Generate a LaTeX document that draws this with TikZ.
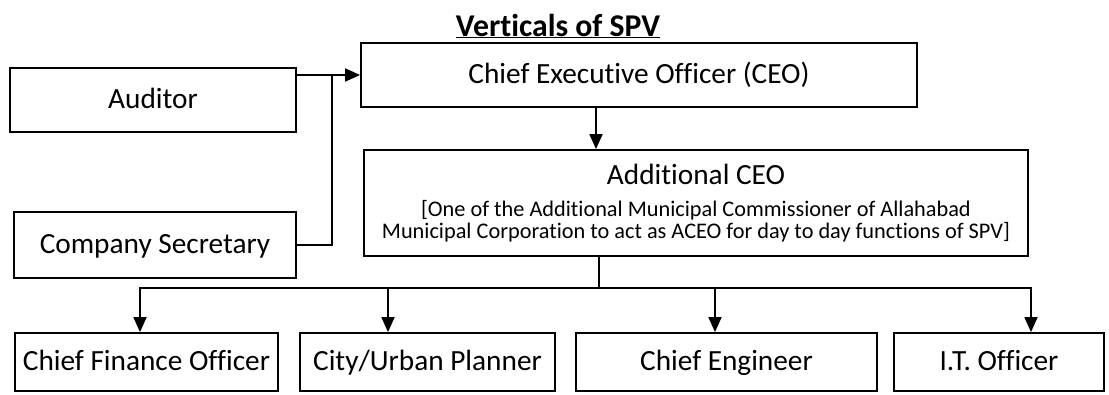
\documentclass[tikz,border=0pt]{standalone}
\usepackage{fontspec}
\setmainfont{Carlito}[Ligatures={NoCommon}]
\usepackage{tikz}
\usetikzlibrary{
  arrows.meta,
  positioning,
  calc
}
\newcommand{\aceonote}{\fontsize{22.3}{22}\selectfont}
\tikzset{
  spvnode/.style={
    draw, line width=1.8pt, inner sep=2pt, align=center,
    font=\fontsize{29.3}{35}\selectfont, text height=21pt, text depth=5pt
  },
  topbox/.style={spvnode, minimum height=64pt},
  vertbox/.style={spvnode, minimum height=58pt},
  link/.style={line width=1.8pt},
  reports/.style={link, -{Triangle[length=15pt, width=13pt]}},
  heading/.style={font=\fontsize{31.7}{38}\selectfont\bfseries}
}

\begin{document}
\begin{tikzpicture}[x=1pt, y=-1pt]
  \useasboundingbox (0,0) rectangle (1109,394);

  \node[heading] (title) at (558,26) {\underline{Verticals of SPV}};

  \node[topbox, minimum width=286pt] (aud) at (153,100) {Auditor};
  \node[topbox, minimum width=282pt, minimum height=66pt] (cs) at (155,245) {Company Secretary};
  \node[topbox, minimum width=556pt] (ceo) at (639,75) {Chief Executive Officer (CEO)};
  \node[spvnode, text height=, text depth=, minimum width=664pt, minimum height=106pt] (aceo) at (696,203)
    {Additional CEO\\[-3pt]
     \aceonote [One of the Additional Municipal Commissioner of Allahabad\\[-13pt]
     \aceonote Municipal Corporation to act as ACEO for day to day functions of SPV]};

  % verticals under the ACEO
  \foreach \n/\x/\w/\txt in {
    cfo/146.5/263/{Chief Finance Officer},
    cup/427.5/255/{City/Urban Planner},
    ce/726.5/301/{Chief Engineer},
    ito/999/210/{I.T. Officer}}{
    \node[vertbox, minimum width=\w pt] (\n) at (\x,362) {\txt};
  }

  % auditor and secretary to CEO
  \coordinate (jn) at ($(aud.east |- ceo.west)!0.55!(ceo.west)$);
  \draw[reports] (aud.east |- ceo.west) -- (ceo.west);
  \draw[link] (cs.east) -| (jn);

  \draw[reports] ([xshift=-43pt]ceo.south) -- ([xshift=-43pt]ceo.south |- aceo.north);

  \coordinate (bus) at (599,288);
  \draw[link] (bus |- aceo.south) -- (bus);
  \draw[reports] (bus) -| ([xshift=-6.5pt]cfo.north);
  \draw[reports] (bus) -| ([xshift=32pt]ito.north);
  \foreach \n/\dx in {cup/-39.5, ce/-11.5}{
    \draw[reports] ([xshift=\dx pt]\n.north |- bus) -- ([xshift=\dx pt]\n.north);
  }
\end{tikzpicture}
\end{document}
